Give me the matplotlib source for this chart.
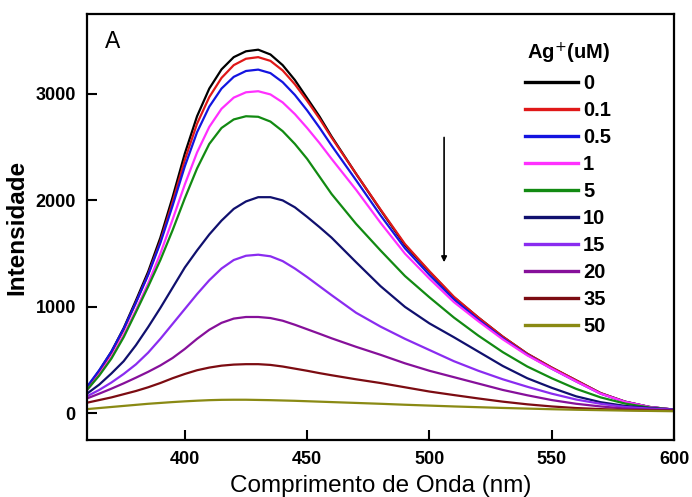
import matplotlib
matplotlib.use('Agg')
import matplotlib.pyplot as plt

plt.rcParams['font.family'] = ['Liberation Sans', 'DejaVu Sans']

# emission spectra
wavelength = [360, 365, 370, 375, 380, 385, 390, 395, 400, 405, 410, 415, 420, 425, 430,
              435, 440, 445, 450, 455, 460, 470, 480, 490, 500, 510, 520, 530, 540, 550,
              560, 570, 580, 590, 600]

ag_0 = [240, 400, 580, 800, 1060, 1330, 1650, 2030, 2440, 2790, 3050, 3230, 3345, 3400, 3415,
        3370, 3270, 3130, 2960, 2790, 2600, 2250, 1910, 1580, 1330, 1090, 900, 720, 560, 430,
        310, 190, 110, 60, 35]
ag_01 = [235, 390, 570, 785, 1040, 1305, 1615, 1985, 2380, 2720, 2970, 3150, 3270, 3330, 3345,
         3310, 3220, 3090, 2935, 2770, 2590, 2250, 1915, 1590, 1335, 1095, 900, 720, 560, 430,
         310, 190, 110, 60, 35]
ag_05 = [250, 405, 580, 795, 1040, 1300, 1600, 1950, 2320, 2640, 2880, 3050, 3160, 3215, 3228,
         3195, 3110, 2990, 2845, 2685, 2515, 2190, 1860, 1550, 1300, 1070, 880, 705, 550, 420,
         300, 185, 108, 60, 35]
ag_1 = [215, 365, 530, 735, 970, 1220, 1500, 1820, 2150, 2450, 2690, 2860, 2965, 3015, 3025,
        2995, 2920, 2810, 2680, 2540, 2390, 2100, 1790, 1500, 1265, 1045, 865, 695, 545, 420,
        300, 185, 108, 60, 35]
ag_5 = [220, 355, 515, 715, 950, 1190, 1440, 1720, 2020, 2300, 2530, 2680, 2760, 2790, 2785,
        2740, 2650, 2530, 2390, 2225, 2060, 1780, 1530, 1290, 1090, 900, 730, 575, 440, 330,
        230, 150, 92, 55, 35]
ag_10 = [185, 270, 375, 490, 640, 810, 990, 1180, 1370, 1530, 1680, 1810, 1920, 1990, 2030,
         2030, 2000, 1935, 1845, 1750, 1650, 1420, 1195, 1000, 845, 715, 580, 445, 330, 240,
         160, 105, 70, 50, 35]
ag_15 = [160, 220, 290, 370, 460, 570, 700, 840, 980, 1120, 1250, 1360, 1440, 1480, 1490,
         1475, 1430, 1360, 1280, 1195, 1110, 945, 815, 700, 595, 490, 400, 320, 250, 185,
         130, 90, 60, 45, 35]
ag_20 = [140, 185, 232, 282, 335, 390, 450, 520, 605, 700, 785, 850, 890, 905, 905,
         895, 870, 832, 790, 748, 705, 625, 550, 470, 400, 340, 280, 220, 170, 125,
         90, 65, 45, 35, 30]
ag_35 = [100, 125, 150, 180, 210, 245, 285, 330, 370, 405, 430, 448, 458, 462, 462,
         455, 440, 420, 400, 378, 358, 320, 285, 245, 205, 172, 140, 110, 85, 65,
         50, 40, 32, 28, 25]
ag_50 = [40, 50, 60, 70, 80, 90, 98, 106, 113, 119, 124, 127, 128, 128, 126,
         124, 121, 118, 114, 110, 106, 98, 90, 81, 73, 65, 58, 51, 45, 39,
         34, 30, 26, 23, 20]

labels = ['0', '0.1', '0.5', '1', '5', '10', '15', '20', '35', '50']
series = [ag_0, ag_01, ag_05, ag_1, ag_5, ag_10, ag_15, ag_20, ag_35, ag_50]
colors = ['#000000', '#e01818', '#1414e0', '#ff30ff', '#128a12',
          '#10106e', '#8a2cf0', '#86109a', '#7c0c12', '#8a8a14']

fig = plt.figure(figsize=(6.92, 4.97), dpi=100)
ax = fig.add_axes([0.1257, 0.1147, 0.8483, 0.8571])

for lab, col, y in zip(labels, colors, series):
    ax.plot(wavelength, y, color=col, lw=1.6, label=lab)

ax.set_xlim(360, 600)
ax.set_ylim(-250, 3750)
ax.set_xticks([400, 450, 500, 550, 600])
ax.set_yticks([0, 1000, 2000, 3000])
ax.tick_params(direction='in', length=7, width=1.5, labelsize=13, pad=8)
for t in ax.get_xticklabels() + ax.get_yticklabels():
    t.set_fontweight('bold')
for s in ax.spines.values():
    s.set_linewidth(1.6)

ax.set_xlabel('Comprimento de Onda (nm)', fontsize=17.5, labelpad=5)
ax.set_ylabel('Intensidade', fontsize=17.5, fontweight='bold', labelpad=5)

ax.annotate('', xy=(506, 1393), xytext=(506, 2617),
            arrowprops=dict(arrowstyle='-|>', color='black', lw=1.2, mutation_scale=8))
ax.text(0.031, 0.962, 'A', transform=ax.transAxes, fontsize=16.5, va='top', ha='left')

leg = ax.legend(title='Ag$^{+}$(uM)', loc='upper left', bbox_to_anchor=(0.746, 0.938),
                frameon=False, borderpad=0, borderaxespad=0, handlelength=2.64,
                handletextpad=0.25, labelspacing=0.40,
                prop={'size': 14.5, 'weight': 'bold'},
                title_fontproperties={'size': 14.5, 'weight': 'bold'})
for line in leg.get_lines():
    line.set_linewidth(2.4)

fig.savefig('out.png', dpi=100)
